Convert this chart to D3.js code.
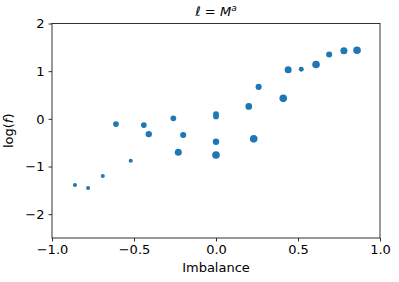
<!DOCTYPE html>
<html>
<head>
<meta charset="utf-8">
<script src="https://cdn.jsdelivr.net/npm/d3@7"></script>
<style>
  body { margin: 0; background: #fff; }
  text { font-family: "DejaVu Sans", sans-serif; fill: #000; }
</style>
</head>
<body>
<svg id="chart"></svg>
<script>
// données
const imbalance = [-0.86, -0.78, -0.69, -0.61, -0.52, -0.44, -0.41, -0.26, -0.20, -0.23,
                   0, 0, 0, 0, 0.20, 0.23, 0.26, 0.41, 0.44, 0.52, 0.61, 0.69, 0.78, 0.86];
const logF = [-1.39, -1.45, -1.20, -0.11, -0.88, -0.13, -0.32, 0.01, -0.34, -0.70,
              0.10, 0.05, -0.48, -0.76, 0.26, -0.42, 0.67, 0.43, 1.03, 1.04, 1.14, 1.35, 1.43, 1.44];
// taille relative des marqueurs
const weight = [4, 4, 4, 8, 4, 8, 10, 8, 9, 12,
                8, 8, 10, 14, 11, 14, 9, 14, 12, 6, 14, 9, 12, 14];

const xTicks = [-1.0, -0.5, 0.0, 0.5, 1.0];
const yTicks = [-2, -1, 0, 1, 2];

const W = 399, H = 282;
const margin = {top: 23.5, right: 19, bottom: 44, left: 52};

const svg = d3.select("#chart").attr("width", W).attr("height", H);

const x = d3.scaleLinear().domain([-1, 1]).range([margin.left, W - margin.right]);
const y = d3.scaleLinear().domain([-2.5, 2]).range([H - margin.bottom, margin.top]);
const r = d3.scaleSqrt().domain([0, 14]).range([0, 3.8]);

const fmt = d => d3.format(".1f")(d).replace("-", "\u2212");

// axes
const gx = svg.append("g")
  .attr("transform", `translate(0,${H - margin.bottom})`)
  .call(d3.axisBottom(x).tickValues(xTicks).tickFormat(fmt).tickSizeOuter(0).tickSize(3.5).tickPadding(3.5));
const gy = svg.append("g")
  .attr("transform", `translate(${margin.left},0)`)
  .call(d3.axisLeft(y).tickValues(yTicks).tickFormat(d => String(d).replace("-", "\u2212")).tickSizeOuter(0).tickSize(3.5).tickPadding(4));

[gx, gy].forEach(g => {
  g.select(".domain").remove();
  g.selectAll("line").attr("stroke", "#000").attr("stroke-width", 0.8);
  g.selectAll("text").style("font-size", "13px").style("font-family", "DejaVu Sans");
});

// points
svg.append("g").selectAll("circle")
  .data(imbalance.map((v, i) => ({x: v, y: logF[i], w: weight[i]})))
  .enter().append("circle")
  .attr("cx", d => x(d.x))
  .attr("cy", d => y(d.y))
  .attr("r", d => r(d.w))
  .attr("fill", "#1f77b4");

// cadre
svg.append("rect")
  .attr("x", margin.left).attr("y", margin.top)
  .attr("width", W - margin.left - margin.right)
  .attr("height", H - margin.top - margin.bottom)
  .attr("fill", "none").attr("stroke", "#000").attr("stroke-width", 0.8);

// titre
const title = svg.append("text")
  .attr("x", (margin.left + W - margin.right) / 2)
  .attr("y", 16)
  .attr("text-anchor", "middle")
  .style("font-size", "13px");
title.append("tspan").style("font-style", "italic").text("\u2113");
title.append("tspan").text(" = ");
title.append("tspan").style("font-style", "italic").text("M");
title.append("tspan").style("font-style", "italic").style("font-size", "9px").attr("dy", -5).text("a");

// libellés
svg.append("text")
  .attr("x", (margin.left + W - margin.right) / 2)
  .attr("y", 272)
  .attr("text-anchor", "middle")
  .style("font-size", "13px")
  .text("Imbalance");

const yl = svg.append("text")
  .attr("transform", `translate(13,${(margin.top + H - margin.bottom) / 2}) rotate(-90)`)
  .attr("text-anchor", "middle")
  .style("font-size", "13px");
yl.append("tspan").text("log(");
yl.append("tspan").style("font-style", "italic").text("f");
yl.append("tspan").text(")");
</script>
</body>
</html>
